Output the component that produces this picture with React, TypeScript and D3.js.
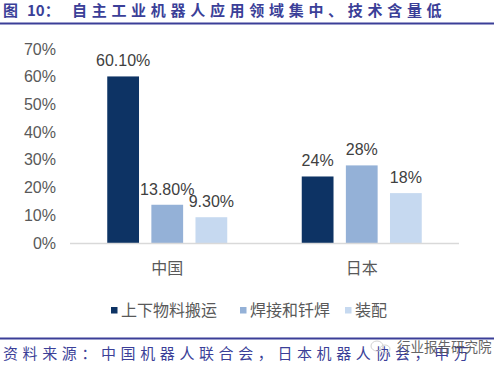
import React from "react";
import * as d3 from "d3";

const categories = ["中国", "日本"];
const seriesNames = ["上下物料搬运", "焊接和钎焊", "装配"];
const seriesColors = ["#0d3364", "#94b1d7", "#c6d9f0"];
const chinaValues = [60.1, 13.8, 9.3];
const japanValues = [24, 28, 18];
const chinaLabels = ["60.10%", "13.80%", "9.30%"];
const japanLabels = ["24%", "28%", "18%"];
const yTicks = [0, 10, 20, 30, 40, 50, 60, 70];

const W = 494;
const H = 372;
const titleColor = "#3b3f98";
const cjk = "'Noto Sans CJK SC', 'Noto Sans', sans-serif";
const latin = "Arial, 'Liberation Sans', sans-serif";

export default function App() {
  const x = d3.scaleBand<string>().domain(categories).range([70, 459]);
  const y = d3.scaleLinear().domain([0, 70]).range([243, 49]);
  const inner = d3
    .scaleBand<number>()
    .domain([0, 1, 2])
    .range([0, 120])
    .paddingInner(0.28)
    .paddingOuter(0);
  const groups = [
    { cat: categories[0], values: chinaValues, labels: chinaLabels },
    { cat: categories[1], values: japanValues, labels: japanLabels },
  ];
  const legendX = [111, 240, 345];

  return (
    <svg
      width={W}
      height={H}
      style={{ position: "absolute", left: 0, top: 0, background: "#fff" }}
    >
      <rect x={0} y={0} width={W} height={H} fill="#fff" />
      {/* Title */}
      <text y={16} fill={titleColor} fontFamily={cjk} fontWeight="bold" fontSize={15}>
        <tspan x={3}>图</tspan>
        <tspan x={27}>10：</tspan>
        <tspan x={72} letterSpacing={4.7}>自主工业机器人应用领域集中、技术含量低</tspan>
      </text>
      <line x1={0} x2={W} y1={23.5} y2={23.5} stroke={titleColor} strokeWidth={2} />

      {/* Y axis ticks */}
      {yTicks.map((t) => (
        <text
          key={t}
          x={56}
          y={y(t)}
          dy="0.35em"
          textAnchor="end"
          fill="#595959"
          fontFamily={latin}
          fontSize={16}
        >
          {t + "%"}
        </text>
      ))}

      {/* Bars */}
      {groups.map((g) => {
        const gx = (x(g.cat) as number) + x.bandwidth() / 2 - 60;
        return (
          <g key={g.cat}>
            {g.values.map((v, i) => (
              <rect
                key={i}
                x={gx + (inner(i) as number)}
                y={y(v)}
                width={inner.bandwidth()}
                height={y(0) - y(v)}
                fill={seriesColors[i]}
              />
            ))}
            {g.values.map((v, i) => (
              <text
                key={"l" + i}
                x={gx + (inner(i) as number) + inner.bandwidth() / 2}
                y={y(v) - 10}
                textAnchor="middle"
                fill="#404040"
                fontFamily={latin}
                fontSize={16}
              >
                {g.labels[i]}
              </text>
            ))}
            <text
              x={(x(g.cat) as number) + x.bandwidth() / 2}
              y={274}
              textAnchor="middle"
              fill="#595959"
              fontFamily={cjk}
              fontSize={16}
            >
              {g.cat}
            </text>
          </g>
        );
      })}

      {/* Axis line */}
      <line x1={70} x2={459} y1={243.5} y2={243.5} stroke="#d9d9d9" strokeWidth={1.5} />

      {/* Legend */}
      {seriesNames.map((n, i) => (
        <g key={n}>
          <rect x={legendX[i]} y={307} width={6.5} height={6.5} fill={seriesColors[i]} />
          <text
            x={legendX[i] + 10}
            y={310}
            dy="0.35em"
            fill="#595959"
            fontFamily={cjk}
            fontSize={16}
          >
            {n}
          </text>
        </g>
      ))}

      {/* Footer */}
      <line x1={0} x2={W} y1={338.5} y2={338.5} stroke={titleColor} strokeWidth={2} />
      <text
        x={3}
        y={359}
        fill={titleColor}
        fontFamily={cjk}
        fontSize={15}
        letterSpacing={4.6}
      >
        资料来源：中国机器人联合会，日本机器人协会，申万
      </text>
      <g opacity={0.9}>
        <ellipse cx={377} cy={346} rx={6} ry={5} fill="none" stroke="#cfcfcf" strokeWidth={1} />
        <ellipse cx={385} cy={349} rx={5} ry={4} fill="none" stroke="#cfcfcf" strokeWidth={1} />
        <text x={397} y={352} fill="#555" fontFamily={cjk} fontSize={13.5}>
          行业报告研究院
        </text>
      </g>
    </svg>
  );
}
